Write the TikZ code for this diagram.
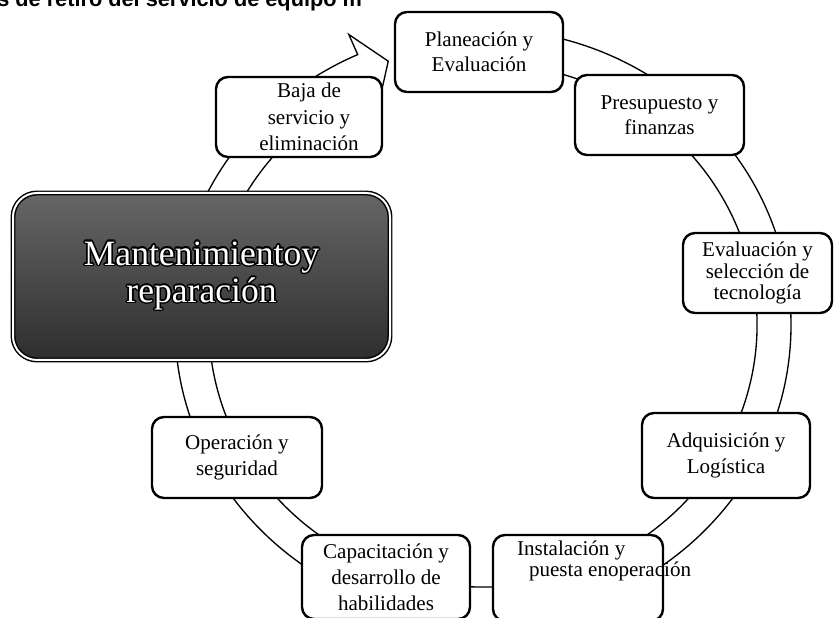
\documentclass[tikz,border=0pt]{standalone}
\usepackage{fontspec}
\setmainfont{Liberation Serif}
\newfontfamily\capfont{Liberation Sans}
\usepackage{contour}
\contourlength{1.1pt}

\begin{document}
\begin{tikzpicture}[x=0.75pt, y=0.75pt,
    stagebox/.style={draw, line width=1.8pt, rounded corners=9pt, fill=white,
        align=center, inner sep=2pt, font=\fontsize{15.8}{19}\selectfont},
    ringband/.style={draw, line width=1pt, fill=white},
    corebox/.style={draw, line width=1.1pt, double=white, double distance=1.5pt,
        rounded corners=18pt, top color=black!60, bottom color=black!82,
        text=white, align=center, font=\fontsize{26.7}{28}\selectfont}]

    \useasboundingbox (0,0) rectangle (834,617);

    % caption, cut by the top of the page
    \node[anchor=base west, inner sep=0pt,
        font=\capfont\bfseries\fontsize{16.3}{18}\selectfont] (caption) at (-3,610)
        {s de retiro del servicio de equipo m};

    % ring with its arrow head
    \coordinate (c) at (483,292);
    \draw[ringband] ([shift={(90:308 and 296)}]c)
        arc[start angle=90, end angle=-246, x radius=308, y radius=296]
        -- ([shift={(114:330 and 318)}]c) -- ([shift={(109:291 and 279)}]c)
        -- ([shift={(114:255 and 245)}]c) -- ([shift={(114:274 and 262)}]c)
        arc[start angle=-246, end angle=90, x radius=274, y radius=262] -- cycle;

    % stages
    \node[stagebox, minimum width=126pt, minimum height=60pt] (plan) at (479,565)
        {Planeación y\\Evaluación};
    \node[stagebox, minimum width=126.75pt, minimum height=60pt] (presu) at (659.5,502)
        {Presupuesto y\\finanzas};
    \node[stagebox, minimum width=111.75pt, minimum height=60pt,
        font=\fontsize{15.8}{16}\selectfont] (tecno) at (757.5,344)
        {Evaluación y\\selección de\\tecnología};
    \node[stagebox, minimum width=126pt, minimum height=63.75pt] (adq) at (726,161.5)
        {Adquisición y\\Logística};
    \node[stagebox, minimum width=127.5pt, minimum height=64.5pt] (inst) at (578,39) {};
    \node[anchor=north west, inner sep=0pt, align=left,
        font=\fontsize{15.8}{16}\selectfont] (insttext)
        at ([xshift=18.75pt, yshift=-5pt]inst.north west)
        {Instalación y\\\hspace*{9pt}puesta enoperación};
    \node[stagebox, minimum width=126pt, minimum height=63pt,
        font=\fontsize{15.8}{19.5}\selectfont] (capa) at (386,40)
        {Capacitación y\\desarrollo de\\habilidades};
    \node[stagebox, minimum width=127.5pt, minimum height=60.75pt] (oper) at (237,159.5)
        {Operación y\\seguridad};
    \node[corebox, minimum width=282.75pt, minimum height=125.25pt] (mant) at (201.5,340.5)
        {\contour{black}{Mantenimientoy}\\\contour{black}{reparación}};
    \node[stagebox, minimum width=124.5pt, minimum height=60pt,
        font=\fontsize{15.8}{20}\selectfont] (baja) at (299,500)
        {\hspace*{15pt}Baja de\\\hspace*{15pt}servicio y\\\hspace*{15pt}eliminación};

\end{tikzpicture}
\end{document}
